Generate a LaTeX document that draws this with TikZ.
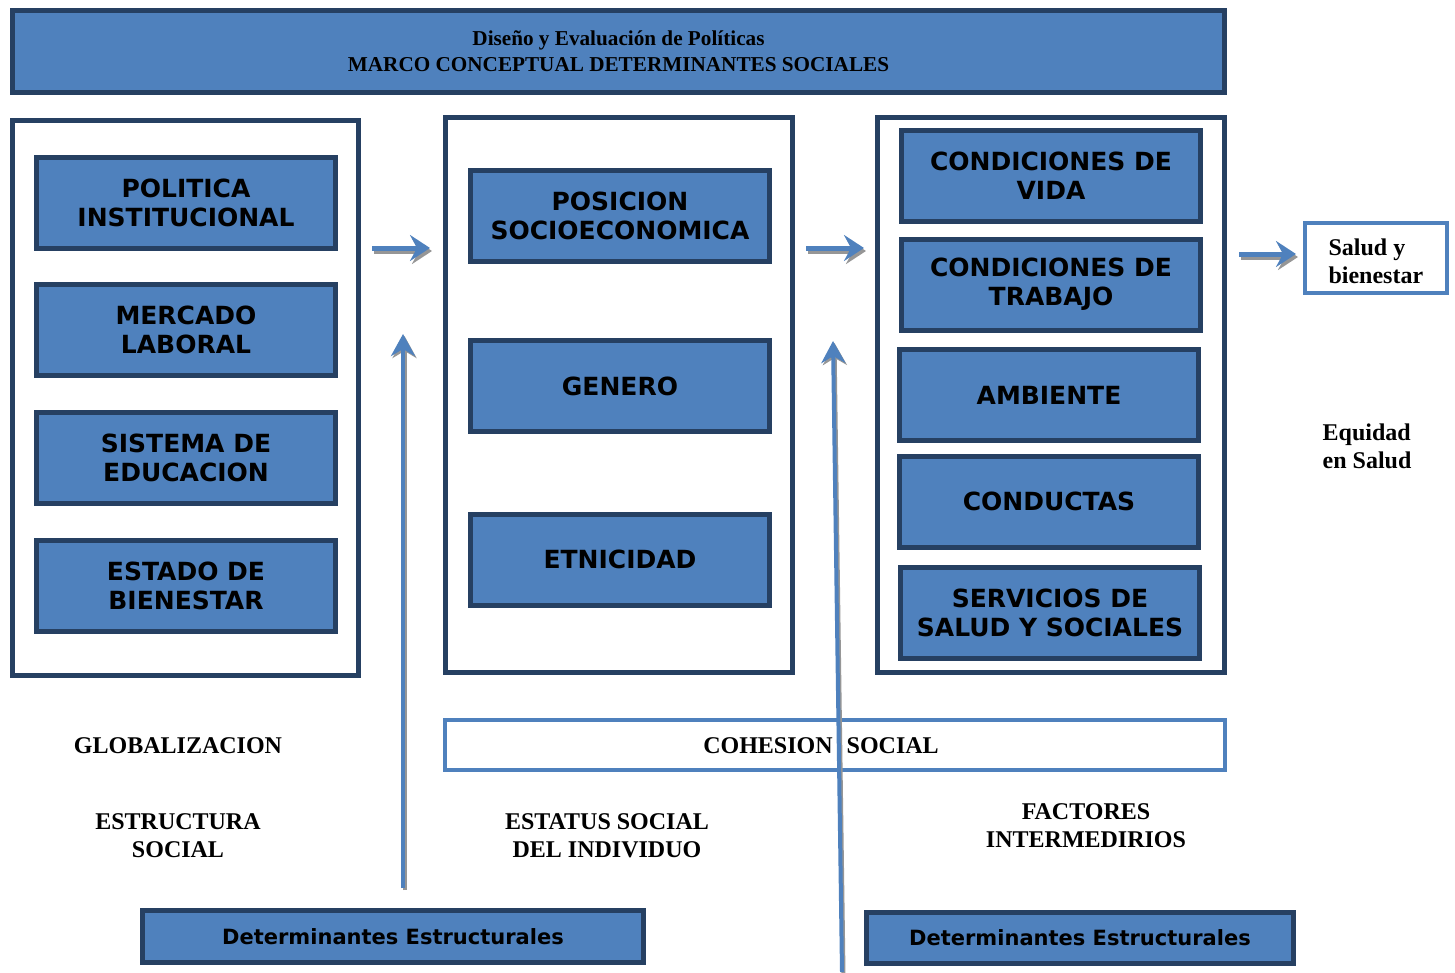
\documentclass[tikz,border=0pt]{standalone}
\usepackage{fontspec}
\setmainfont{Liberation Serif}
\newfontfamily\vfont{DejaVu Sans}
\usetikzlibrary{arrows.meta}
\definecolor{fillblue}{HTML}{4F81BD}
\definecolor{navy}{RGB}{38,64,98}
\definecolor{shadowgray}{RGB}{150,150,150}
\tikzset{
  bluebox/.style={draw=navy, fill=fillblue, line width=5pt, rectangle, align=center,
    inner sep=0pt, font=\vfont\bfseries\fontsize{25}{29}\selectfont},
  outerbox/.style={draw=navy, fill=white, line width=5pt, rectangle, inner sep=0pt},
  lightbox/.style={draw=fillblue, fill=white, line width=4pt, rectangle, inner sep=0pt},
  label/.style={align=center, font=\bfseries\fontsize{24}{28}\selectfont},
  arr/.style={draw=fillblue, line width=5pt, -{Stealth[length=20pt,width=26pt,inset=7pt]}},
  arrsh/.style={draw=shadowgray, line width=5pt, -{Stealth[length=20pt,width=26pt,inset=7pt]}},
  uparr/.style={draw=fillblue, line width=4pt, -{Stealth[length=22pt,width=24pt,inset=7pt]}},
  uparrsh/.style={draw=shadowgray, line width=4pt, -{Stealth[length=22pt,width=24pt,inset=7pt]}},
}
\begin{document}
\begin{tikzpicture}[x=1pt,y=-1pt]
\useasboundingbox (0,0) rectangle (1455,972);
% header
\node[bluebox, minimum width=1212pt, minimum height=82pt, font=\bfseries\fontsize{21.2}{26}\selectfont]
  (head) at (618.5,51.5) {Diseño y Evaluación de Políticas\\MARCO CONCEPTUAL DETERMINANTES SOCIALES};
% outer boxes
\node[outerbox, minimum width=346pt, minimum height=555pt] (lo) at (185.5,398) {};
\node[outerbox, minimum width=347pt, minimum height=555pt] (mo) at (619,395) {};
\node[outerbox, minimum width=347pt, minimum height=555pt] (ro) at (1051,395) {};
% inner boxes
\tikzset{inner/.style={bluebox, minimum width=299pt, minimum height=91pt}}
\node[inner] (l1) at (186,203) {POLITICA\\INSTITUCIONAL};
\node[inner] (l2) at (186,330) {MERCADO\\LABORAL};
\node[inner] (l3) at (186,458) {SISTEMA DE\\EDUCACION};
\node[inner] (l4) at (186,586) {ESTADO DE\\BIENESTAR};
\node[inner] (m1) at (620,215.5) {POSICION\\SOCIOECONOMICA};
\node[inner] (m2) at (620,386) {GENERO};
\node[inner] (m3) at (620,559.5) {ETNICIDAD};
\node[inner] (r1) at (1051,175.5) {CONDICIONES DE\\VIDA};
\node[inner] (r2) at (1051,284.5) {CONDICIONES DE\\TRABAJO};
\node[inner] (r3) at (1049,395) {AMBIENTE};
\node[inner] (r4) at (1049,501.5) {CONDUCTAS};
\node[inner] (r5) at (1050,612.5) {SERVICIOS DE\\SALUD Y SOCIALES};
% salud box
\node[lightbox, minimum width=142pt, minimum height=70pt] (salud) at (1376,258) {};
\node[label, align=left, anchor=west] (saludt) at (1325,261) {Salud y\\bienestar};
% equidad
\node[label, align=left] (equi) at (1367,446) {Equidad\\en Salud};
% cohesion
\node[lightbox, minimum width=780pt, minimum height=50pt] (coh) at (835,745) {};
\node[label] (coht) at (821,746) {COHESION\hspace{14pt}SOCIAL};
% labels
\node[label] (glob) at (178,746) {GLOBALIZACION};
\node[label] (estr) at (178,836) {ESTRUCTURA\\SOCIAL};
\node[label] (esta) at (607,836) {ESTATUS SOCIAL\\DEL INDIVIDUO};
\node[label] (fact) at (1086,826) {FACTORES\\INTERMEDIRIOS};
% bottom boxes
\node[bluebox, minimum width=501pt, minimum height=52pt, font=\vfont\bfseries\fontsize{21}{24}\selectfont]
  (d1) at (393,936.5) {Determinantes Estructurales};
\node[bluebox, minimum width=427pt, minimum height=51pt, font=\vfont\bfseries\fontsize{21}{24}\selectfont]
  (d2) at (1080,938) {Determinantes Estructurales};
% right arrows
\coordinate (a1s) at (372,248); \coordinate (a1e) at (430,248);
\coordinate (a2s) at (806,248); \coordinate (a2e) at (864,248);
\coordinate (a3s) at (1239,254); \coordinate (a3e) at (1296,254);
\foreach \s/\e in {a1s/a1e,a2s/a2e,a3s/a3e}{
  \draw[arrsh] ([shift={(2,3)}]\s) -- ([shift={(2,3)}]\e);
  \draw[arr] (\s) -- (\e);
}
% up arrows
\coordinate (u1e) at (403,334);
\coordinate (u1s) at ([shift={(0,-20)}]d1.north -| u1e);
\coordinate (u2s) at (842,972);
\coordinate (u2e) at (833,341);
\draw[uparrsh] ([shift={(1.5,2)}]u1s) -- ([shift={(1.5,2)}]u1e);
\draw[uparr] (u1s) -- (u1e);
\draw[uparrsh] ([shift={(1.5,2)}]u2s) -- ([shift={(1.5,2)}]u2e);
\draw[uparr] (u2s) -- (u2e);
\end{tikzpicture}
\end{document}
